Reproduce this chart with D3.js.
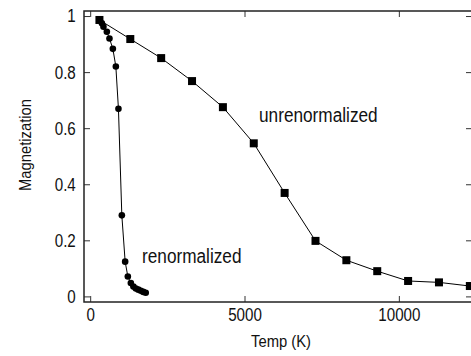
<!DOCTYPE html>
<html>
<head>
<meta charset="utf-8">
<script src="https://cdn.jsdelivr.net/npm/d3@7"></script>
<style>
  body { margin: 0; background: #fff; }
  svg { display: block; font-family: "Liberation Sans", Arial, sans-serif; }
</style>
</head>
<body>
<svg width="471" height="356"></svg>
<script>
// unrenormalized run, one point every 1000 K
var unrenTemp = [300, 1300, 2300, 3300, 4300, 5300, 6300, 7300, 8300, 9300, 10300, 11300, 12300];
var unrenMag  = [0.986, 0.918, 0.85, 0.768, 0.675, 0.546, 0.369, 0.198, 0.129, 0.090, 0.055, 0.050, 0.037];

// renormalized run
var renTemp = [300, 380, 430, 540, 625, 735, 832, 916, 1026, 1133, 1220, 1317, 1400, 1480, 1560, 1640, 1720, 1800];
var renMag  = [0.986, 0.974, 0.962, 0.944, 0.92, 0.883, 0.82, 0.669, 0.289, 0.124, 0.071, 0.048, 0.035, 0.028, 0.024, 0.020, 0.016, 0.013];

var xTicks = [0, 5000, 10000];
var yTicks = [0, 0.2, 0.4, 0.6, 0.8, 1];

var svg = d3.select("svg");
var pL = 84, pR = 472, pT = 11, pB = 302;
var sx = 0.87; // text looks horizontally squeezed
var tsx = 0.82;

var x = d3.scaleLinear().domain([-200, 12370]).range([pL, pR]);
var y = d3.scaleLinear().domain([-0.02, 1.018]).range([pB, pT]);

var unren = unrenTemp.map(function(t, i) { return [t, unrenMag[i]]; });
var ren = renTemp.map(function(t, i) { return [t, renMag[i]]; });

function styleAxis(g) {
  g.select(".domain").remove();
  g.selectAll("line").attr("stroke", "#333").attr("stroke-width", 1);
  g.selectAll("text").attr("fill", "#111").attr("font-size", 18.5)
    .attr("font-family", "Liberation Sans, Arial, sans-serif");
}

// axes, ticks point inward
svg.append("g").attr("transform", "translate(0," + pB + ")")
  .call(d3.axisBottom(x).tickValues(xTicks).tickFormat(d3.format("d")).tickSize(-6).tickPadding(5.5))
  .call(styleAxis)
  .selectAll("text").attr("transform", "scale(" + tsx + ",1)");
svg.append("g").attr("transform", "translate(0," + pT + ")")
  .call(d3.axisTop(x).tickValues(xTicks).tickSize(-6).tickFormat(""))
  .call(styleAxis);
svg.append("g").attr("transform", "translate(" + pL + ",0)")
  .call(d3.axisLeft(y).tickValues(yTicks).tickFormat(d3.format("")).tickSize(-6).tickPadding(10))
  .call(styleAxis)
  .selectAll("text").attr("transform", "scale(" + tsx + ",1)");
svg.append("g").attr("transform", "translate(" + pR + ",0)")
  .call(d3.axisRight(y).tickValues(yTicks).tickSize(-6).tickFormat(""))
  .call(styleAxis);

// frame
svg.append("rect")
  .attr("x", pL).attr("y", pT)
  .attr("width", pR - pL).attr("height", pB - pT)
  .attr("fill", "none").attr("stroke", "#222").attr("stroke-width", 1.5);

var line = d3.line().x(function(d) { return x(d[0]); }).y(function(d) { return y(d[1]); });

svg.append("path").datum(unren).attr("d", line)
  .attr("fill", "none").attr("stroke", "#000").attr("stroke-width", 1);
svg.append("path").datum(ren).attr("d", line)
  .attr("fill", "none").attr("stroke", "#000").attr("stroke-width", 1);

svg.append("g").selectAll("rect").data(unren).enter().append("rect")
  .attr("x", function(d) { return x(d[0]) - 4; })
  .attr("y", function(d) { return y(d[1]) - 4; })
  .attr("width", 8).attr("height", 8).attr("fill", "#000");

svg.append("g").selectAll("circle").data(ren).enter().append("circle")
  .attr("cx", function(d) { return x(d[0]); })
  .attr("cy", function(d) { return y(d[1]); })
  .attr("r", 3.3).attr("fill", "#000");

// labels
function label(txt, px, py, size, anchor, rot) {
  svg.append("text")
    .attr("transform", "translate(" + px + "," + py + ")" + (rot ? " rotate(" + rot + ")" : "") + " scale(" + sx + ",1)")
    .attr("text-anchor", anchor)
    .attr("font-size", size)
    .attr("fill", "#111")
    .text(txt);
}
label("unrenormalized", 259, 122, 19.8, "start");
label("renormalized", 142, 263, 19.8, "start");
label("Temp (K)", 281, 347, 17, "middle");
label("Magnetization", 31, 145, 17, "middle", -90);
</script>
</body>
</html>
